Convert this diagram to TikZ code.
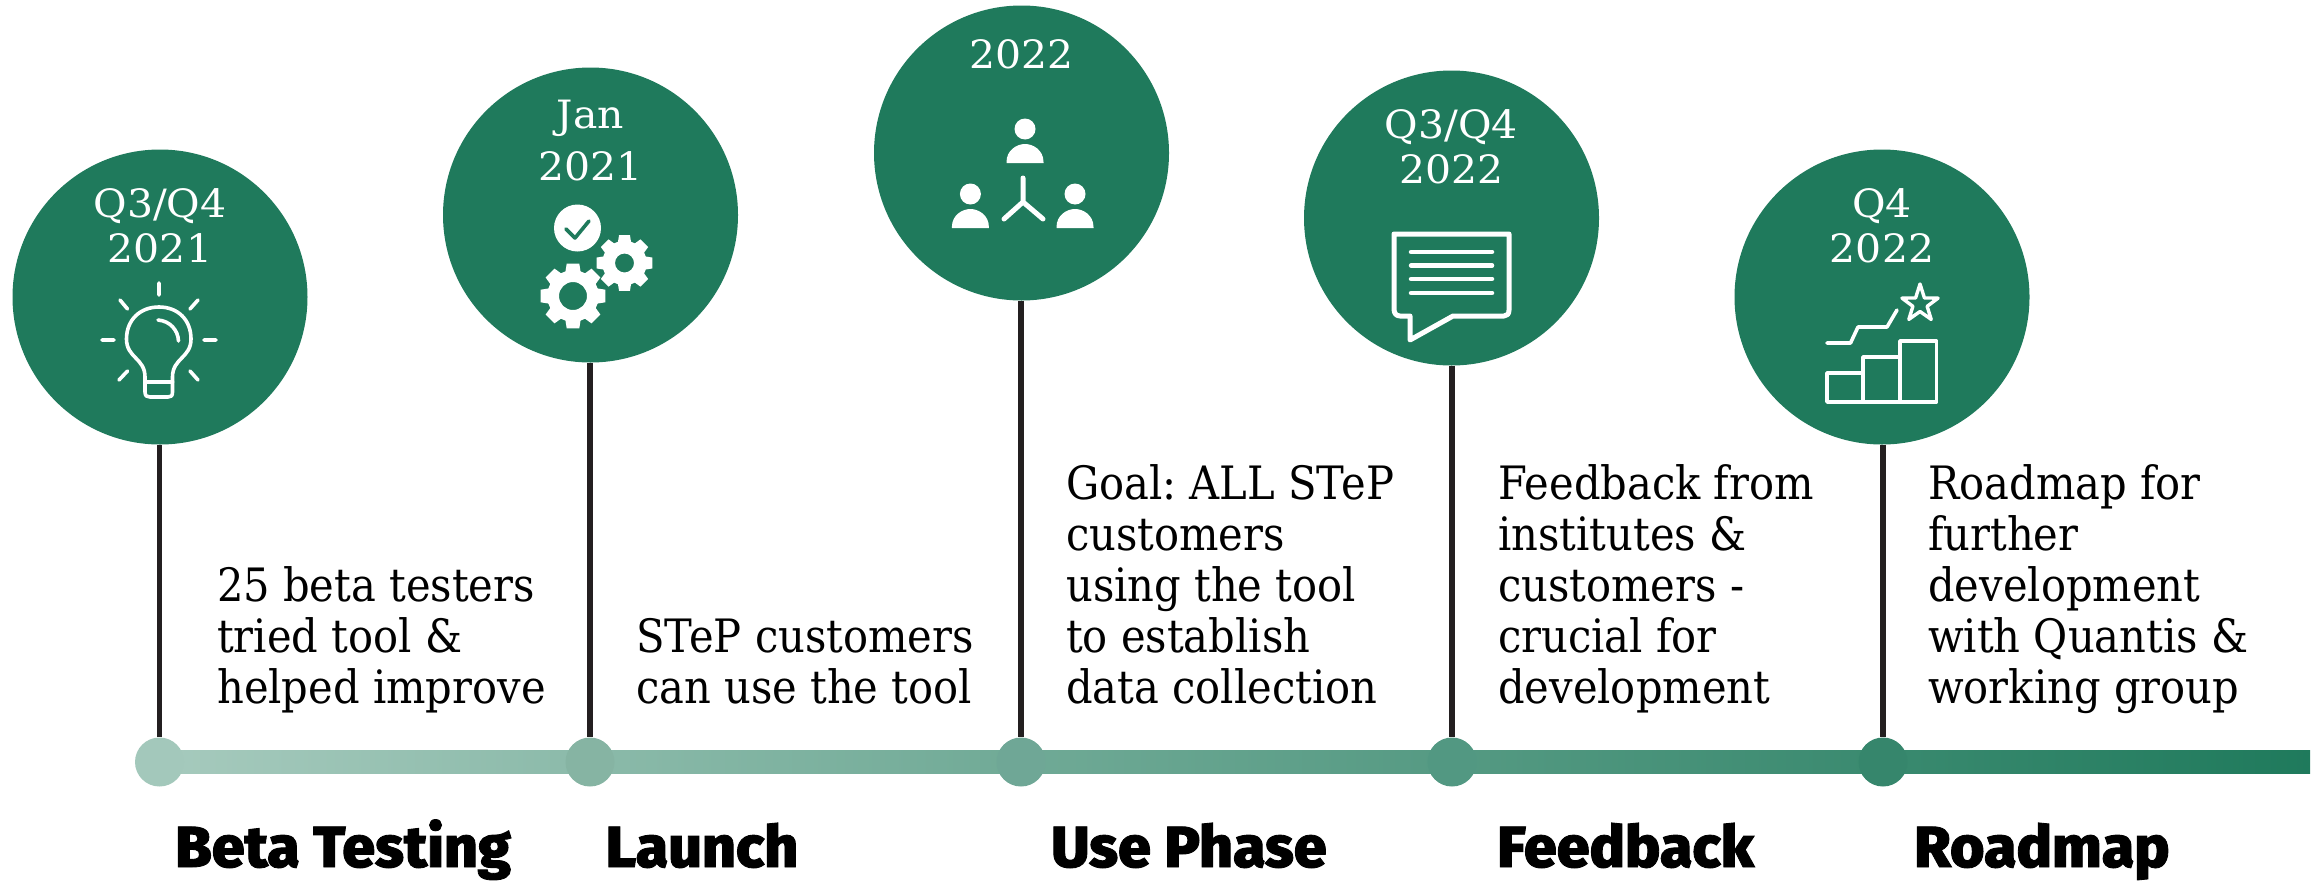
\documentclass[tikz,border=0pt]{standalone}
\usepackage{fontspec}
\newfontfamily\bodyf{DejaVu Serif}[FakeStretch=0.905]
\newfontfamily\datef{DejaVu Serif}[FakeStretch=1.05]
\newfontfamily\headf{Fira Sans}[UprightFont={* ExtraBold},FakeStretch=1.02,FakeBold=1.5]
\definecolor{gr}{HTML}{1F7A5C}
\definecolor{ink}{HTML}{231F20}
\definecolor{da}{RGB}{163,200,187}
\definecolor{db}{RGB}{134,180,163}
\definecolor{dc}{RGB}{111,167,150}
\definecolor{dd}{RGB}{82,152,130}
\definecolor{de}{RGB}{54,134,108}
\definecolor{bl}{RGB}{166,202,189}
\tikzset{
 bub/.style={circle,fill=gr,minimum size=295pt,inner sep=0pt},
 datelab/.style={text=white,font=\datef\fontsize{39}{45}\selectfont,anchor=base,inner sep=0pt},
 dotm/.style={circle,minimum size=49pt,inner sep=0pt},
 stem/.style={draw=ink,line width=5.5pt},
 desc/.style={font=\bodyf\fontsize{46}{51}\selectfont\frenchspacing,align=left,anchor=base west,inner sep=0pt,text=black},
 headl/.style={font=\headf\fontsize{58}{60}\selectfont,anchor=base west,inner sep=0pt,text=black},
 ico/.style={draw=white,line width=3.6pt,line cap=round,line join=round},
}
\newcommand{\gearat}[4]{% x,y,router,rhole
 \begin{scope}[shift={(#1,#2)}]
 \fill[white,even odd rule] (-11:#3)
  \foreach \a in {0,45,...,315}{
   -- ({\a-11}:#3) -- ({\a+11}:#3)
   -- ({\a+17}:{#3*0.78}) -- ({\a+28}:{#3*0.78})
  } -- cycle (0,0) circle (#4);
 \end{scope}
}
\begin{document}
\begin{tikzpicture}[x=1pt,y=-1pt]
\useasboundingbox (0,0) rectangle (2314,881);
% bar
\coordinate (barstart) at (159.5,750.5);
\coordinate (barend) at (2310,773.5);
\shade[left color=bl,right color=gr] (barstart) rectangle (barend);
% nodes on the bar
\node[dotm,fill=da] (d1) at (159.5,762) {};
\node[dotm,fill=db] (d2) at (590,762) {};
\node[dotm,fill=dc] (d3) at (1021,762) {};
\node[dotm,fill=dd] (d4) at (1452,762) {};
\node[dotm,fill=de] (d5) at (1883,762) {};
% bubbles
\node[bub] (c1) at (160,297) {};
\node[bub] (c2) at (590.5,215) {};
\node[bub] (c3) at (1021.5,153) {};
\node[bub] (c4) at (1451.5,218) {};
\node[bub] (c5) at (1882,297) {};
\draw[stem] (c1.south -| d1) -- (d1.north);
\draw[stem] (c2.south -| d2) -- (d2.north);
\draw[stem] (c3.south -| d3) -- (d3.north);
\draw[stem] (c4.south -| d4) -- (d4.north);
\draw[stem] (c5.south -| d5) -- (d5.north);
% dates
\node[datelab] (t1a) at (160,217) {Q3/Q4};
\node[datelab] (t1b) at (160,262) {2021};
\node[datelab] (t2a) at (590.5,128) {Jan};
\node[datelab] (t2b) at (590.5,180) {2021};
\node[datelab] (t3a) at (1021.5,68) {2022};
\node[datelab] (t4a) at (1451.5,138) {Q3/Q4};
\node[datelab] (t4b) at (1451.5,183) {2022};
\node[datelab] (t5a) at (1882,217) {Q4};
\node[datelab] (t5b) at (1882,262) {2022};
% bulb
\draw[ico] (159,283)--(159,295) (120,300)--(127.5,309) (198,300)--(190,309)
 (102,340)--(114,340) (204,340)--(216,340) (127.5,371)--(119,380) (190,371)--(198,380);
\draw[ico] (145,377) .. controls (145,358) and (126.5,358) .. (126.5,339)
 .. controls (126.5,320) and (140,307) .. (159,307)
 .. controls (178,307) and (191,320) .. (191,339)
 .. controls (191,358) and (172.5,358) .. (172.5,377)
 -- (172.5,392) .. controls (172.5,396) and (171,397) .. (168,397) -- (150,397)
 .. controls (147,397) and (145,396) .. (145,392) -- cycle;
\draw[ico] (145,382)--(172.5,382);
\draw[ico] (158,320) .. controls (170,321) and (178,330) .. (178.5,341);
% gears and check
\fill[white] (577.5,228) circle (23.5);
\draw[gr,line width=3.6pt,line join=round,line cap=round] (566,229)--(575,238)--(589,221);
\gearat{573}{296}{33}{14}
\gearat{624.5}{263}{28.5}{9.5}
% network
\foreach \hx/\hy in {1025/129,970.4/194,1075/194}{
 \fill[white] (\hx,\hy) circle (10.5);
 \fill[white] ({\hx-18.5},{\hy+34}) -- ({\hx-18.5},{\hy+33}) .. controls ({\hx-18.5},{\hy+21}) and ({\hx-8},{\hy+15}) .. (\hx,{\hy+15}) .. controls ({\hx+8},{\hy+15}) and ({\hx+18.5},{\hy+21}) .. ({\hx+18.5},{\hy+33}) -- ({\hx+18.5},{\hy+34}) -- cycle;
}
\draw[ico,line width=5pt] (1023,178)--(1023,202)--(1004,219) (1023,202)--(1043,219);
% speech bubble
\draw[ico,line width=5pt,line join=round] (1394,234)--(1509,234)--(1509,310) .. controls (1509,314) and (1507,316) .. (1504,316)
 -- (1453,316) -- (1410,340) -- (1410,316) -- (1400,316) .. controls (1396,316) and (1394,313) .. (1394,309) -- cycle;
\foreach \yy in {252,265.5,279,293}{\draw[ico,line width=4.5pt] (1411,\yy)--(1492,\yy);}
% chart
\draw[ico,line cap=butt] (1827,373)rectangle(1863,402) (1863,357)rectangle(1900,402) (1900,341)rectangle(1936.5,402);
\draw[ico] (1827,343)--(1850.5,343)--(1858,327)--(1887,327)--(1897,310);
\draw[ico,line width=3.4pt] (1920,284)
 --({1920+7.5*cos(-54)},{304+7.5*sin(-54)})
 --({1920+19*cos(-18)},{304+19*sin(-18)})
 --({1920+7.5*cos(18)},{304+7.5*sin(18)})
 --({1920+19*cos(54)},{304+19*sin(54)})
 --({1920+7.5*cos(90)},{304+7.5*sin(90)})
 --({1920+19*cos(126)},{304+19*sin(126)})
 --({1920+7.5*cos(162)},{304+7.5*sin(162)})
 --({1920+19*cos(198)},{304+19*sin(198)})
 --({1920+7.5*cos(234)},{304+7.5*sin(234)})
 --cycle;
% descriptions
\node[desc] (x1) at (217,703) {25 beta testers\\tried tool \&\\helped improve};
\node[desc] (x2) at (636,703) {STeP customers\\can use the tool};
\node[desc] (x3) at (1066,703) {Goal: ALL STeP\\customers\\using the tool\\to establish\\data collection};
\node[desc] (x4) at (1498,703) {Feedback from\\institutes \&\\customers -\\crucial for\\development};
\node[desc] (x5) at (1928,703) {Roadmap for\\further\\development\\with Quantis \&\\working group};
% headings
\node[headl] (h1) at (175,867) {Beta Testing};
\node[headl] (h2) at (605.5,867) {Launch};
\node[headl] (h3) at (1051,867) {Use Phase};
\node[headl] (h4) at (1497,867) {Feedback};
\node[headl] (h5) at (1914,867) {Roadmap};
\end{tikzpicture}
\end{document}
